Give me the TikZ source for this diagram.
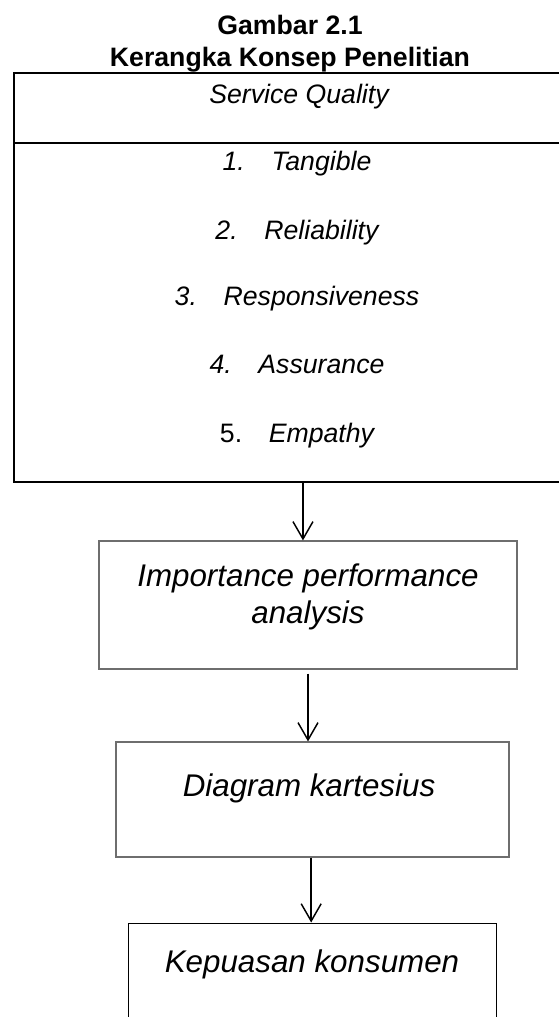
\documentclass[tikz,border=0pt]{standalone}
\usepackage{fontspec}
\setmainfont{Liberation Sans}
\usetikzlibrary{arrows.meta,fit,positioning}
\definecolor{boxgray}{HTML}{6E6E6E}

\tikzset{
  topcell/.style={draw, line width=1.5pt, inner sep=0pt},
  lowcell/.style={draw=boxgray, line width=0.9pt, inner sep=0pt},
  endcell/.style={draw, line width=0.75pt, inner sep=0pt},
  titletext/.style={font=\bfseries\fontsize{20}{24}\selectfont, align=center, inner sep=0pt},
  toptext/.style={font=\itshape\fontsize{20}{24}\selectfont, inner sep=0pt},
  lowtext/.style={font=\itshape\fontsize{23.5}{28}\selectfont, align=center, inner sep=0pt},
  flow/.style={-{Straight Barb[length=13pt,width=15pt]}, line width=1.1pt}
}

\begin{document}
\begin{tikzpicture}[x=0.75pt, y=-0.75pt]
 \useasboundingbox (0,0) rectangle (559,1017);
 \clip (0,0) rectangle (559,1017);

 % judul
 \node[titletext] (judul) at (290,44) {Gambar 2.1\\Kerangka Konsep Penelitian};

 % kotak service quality
 \node[topcell, fit={(14,73) (585,143)}] (sqhead) {};
 \node[toptext, anchor=base] (sqtext) at (299,103) {Service Quality};
 \node[topcell, fit={(14,143) (585,482)}] (sqdim) {};

  \node[toptext, anchor=base] (dim1) at (297,170) {1.\hspace{1em}Tangible};
  \node[toptext, anchor=base] (dim2) at (297,239) {2.\hspace{1em}Reliability};
  \node[toptext, anchor=base] (dim3) at (297,305) {3.\hspace{1em}Responsiveness};
  \node[toptext, anchor=base] (dim4) at (297,373) {4.\hspace{1em}Assurance};
  \node[toptext, anchor=base] (dim5) at (297,442) {\textup{5.}\hspace{1em}Empathy};

 % kotak bawah
 \node[lowcell, fit={(99,541) (517,669)}] (ipa) {};
  \node[lowtext] (ipatext) at (308,597) {Importance performance\\analysis};

 \node[lowcell, fit={(116,742) (509,857)}] (diag) {};
  \node[lowtext, anchor=base] (diagtext) at (309,796) {Diagram kartesius};

 \node[endcell, fit={(128,923) (496,1040)}] (puas) {};
  \node[lowtext, anchor=base] (puastext) at (312,972) {Kepuasan konsumen};

 % panah
 \draw[flow] ([xshift=2.6pt]sqdim.south) -- ([xshift=2.6pt]sqdim.south |- ipa.north);
 \draw[flow, shorten <=3pt] (ipa.south) -- (ipa.south |- diag.north);
 \draw[flow] ([xshift=-1pt]diag.south) -- ([xshift=-1pt]diag.south |- puas.north);

\end{tikzpicture}
\end{document}
